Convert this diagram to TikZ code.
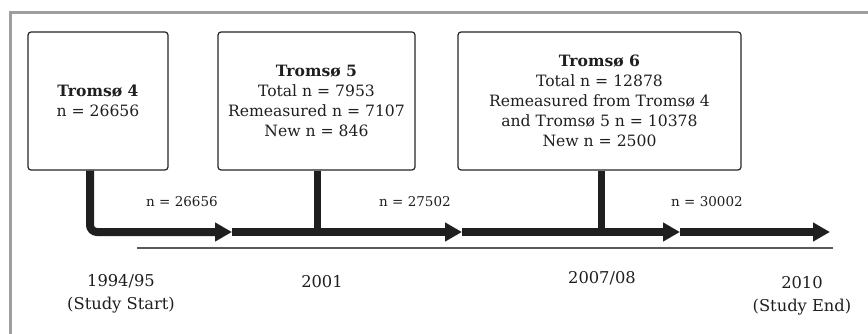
\documentclass[tikz,border=0pt]{standalone}
\usepackage{fontspec}
\setmainfont{DejaVu Serif}
\usetikzlibrary{arrows.meta}
\begin{document}
\begin{tikzpicture}[x=1pt,y=-1pt,
  box/.style={draw=black!85, line width=1.2pt, rounded corners=3pt, minimum height=138pt, align=center, inner sep=0pt, font=\fontsize{15.6}{20}\selectfont, text=black!88},
  flow/.style={line width=8pt, draw=black!88},
  tip/.style={-{Triangle[length=17pt,width=18pt]}},
  lab/.style={font=\fontsize{13.5}{15}\selectfont, text=black!88},
  year/.style={font=\fontsize{16.3}{23}\selectfont, align=center, text=black!88}]
\useasboundingbox (0,0) rectangle (868,334);
\fill[white] (0,0) rectangle (868,334);
\draw[line width=3pt, draw=black!38] (10,336) -- (10,13) -- (870,13);

\node[box, minimum width=140pt] (b4) at (98,101) {\textbf{Tromsø 4}\\n = 26656};
\node[box, minimum width=197pt] (b5) at (316.5,101) {\textbf{Tromsø 5}\\Total n = 7953\\Remeasured n = 7107\\New n = 846};
\node[box, minimum width=283pt] (b6) at (599.5,101) {\textbf{Tromsø 6}\\Total n = 12878\\Remeasured from Tromsø 4\\and Tromsø 5 n = 10378\\New n = 2500};

\coordinate (c0) at (90,232);
\coordinate (a1) at (232,232);
\coordinate (a2) at (462,232);
\coordinate (a3) at (680,232);
\coordinate (a4) at (830,232);
\coordinate (j5) at (317,232);
\coordinate (j6) at (601,232);
\coordinate (l0) at (137,248);
\coordinate (l1) at (833,248);

\draw[line width=1.5pt, draw=black!65] (l0) -- (l1);

\draw[flow, line width=7pt] (b5.south -| j5) -- (j5);
\draw[flow, line width=7pt] (b6.south -| j6) -- (j6);
\draw[flow, tip, rounded corners=7pt] (b4.south -| c0) -- (c0) -- (a1);
\draw[flow, tip] (a1) -- (a2);
\draw[flow, tip] (a2) -- (a3);
\draw[flow, tip] (a3) -- (a4);

\node[lab] (n1) at (182,202) {n = 26656};
\node[lab] (n2) at (415,202) {n = 27502};
\node[lab] (n3) at (707,202) {n = 30002};

\node[year] (y1) at (121,294) {1994/95\\(Study Start)};
\node[year] (y2) at (322,282) {2001};
\node[year] (y3) at (602,278) {2007/08};
\node[year] (y4) at (802,296) {2010\\(Study End)};
\end{tikzpicture}
\end{document}
